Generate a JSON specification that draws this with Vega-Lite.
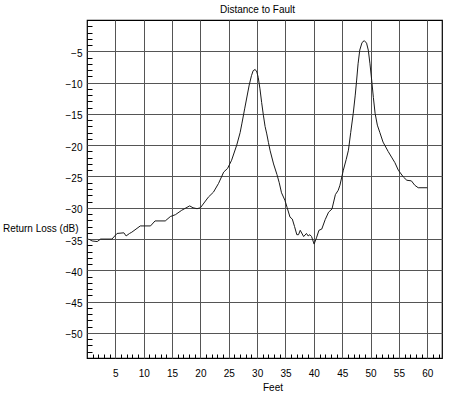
{
  "$schema": "https://vega.github.io/schema/vega-lite/v6.json",
  "width": 355,
  "height": 338,
  "autosize": "none",
  "padding": {"left": 87, "top": 20, "right": 8, "bottom": 37},
  "background": "white",
  "config": {"font": "Liberation Sans", "view": {"stroke": "black", "strokeWidth": 1.2}},
  "title": {"text": "Distance to Fault", "fontSize": 10, "fontWeight": "normal", "color": "black", "dx": -7, "dy": 10, "offset": 7, "baseline": "alphabetic"},
  "data": {"values": [
    {"feet": 0.3, "dB": -35.0}, {"feet": 0.9, "dB": -35.3}, {"feet": 1.8, "dB": -35.4}, {"feet": 2.4, "dB": -35.0},
    {"feet": 4.4, "dB": -35.0}, {"feet": 5.3, "dB": -34.1}, {"feet": 6.5, "dB": -34.0}, {"feet": 6.9, "dB": -34.5},
    {"feet": 7.5, "dB": -34.1}, {"feet": 7.9, "dB": -33.9}, {"feet": 9.4, "dB": -32.9}, {"feet": 11.2, "dB": -32.9},
    {"feet": 12.0, "dB": -32.1}, {"feet": 13.8, "dB": -32.1}, {"feet": 14.7, "dB": -31.4}, {"feet": 15.6, "dB": -31.1},
    {"feet": 16.7, "dB": -30.4}, {"feet": 18.1, "dB": -29.7}, {"feet": 18.7, "dB": -30.0}, {"feet": 19.4, "dB": -30.15},
    {"feet": 20.0, "dB": -30.0}, {"feet": 21.4, "dB": -28.3}, {"feet": 22.3, "dB": -27.5}, {"feet": 23.2, "dB": -26.1},
    {"feet": 24.1, "dB": -24.3}, {"feet": 24.8, "dB": -23.7}, {"feet": 25.5, "dB": -22.4}, {"feet": 26.4, "dB": -20.0},
    {"feet": 27.0, "dB": -18.0}, {"feet": 27.3, "dB": -16.6}, {"feet": 27.8, "dB": -14.2}, {"feet": 28.2, "dB": -12.3},
    {"feet": 28.6, "dB": -10.4}, {"feet": 29.0, "dB": -8.9}, {"feet": 29.3, "dB": -8.1}, {"feet": 29.65, "dB": -7.9},
    {"feet": 29.95, "dB": -8.3}, {"feet": 30.2, "dB": -9.2}, {"feet": 30.5, "dB": -11.0}, {"feet": 30.8, "dB": -13.2},
    {"feet": 31.1, "dB": -15.2}, {"feet": 31.4, "dB": -17.0}, {"feet": 31.7, "dB": -18.2}, {"feet": 32.0, "dB": -19.6},
    {"feet": 32.3, "dB": -20.9}, {"feet": 32.9, "dB": -23.0}, {"feet": 33.5, "dB": -24.7}, {"feet": 33.9, "dB": -26.0},
    {"feet": 34.3, "dB": -27.6}, {"feet": 34.9, "dB": -28.8}, {"feet": 35.3, "dB": -30.0}, {"feet": 35.8, "dB": -31.5},
    {"feet": 36.2, "dB": -31.8}, {"feet": 36.6, "dB": -33.0}, {"feet": 37.0, "dB": -34.3}, {"feet": 37.3, "dB": -34.3},
    {"feet": 37.6, "dB": -33.6}, {"feet": 38.2, "dB": -34.6}, {"feet": 38.7, "dB": -34.1}, {"feet": 39.0, "dB": -34.5},
    {"feet": 39.3, "dB": -34.3}, {"feet": 39.6, "dB": -34.6}, {"feet": 40.05, "dB": -35.8}, {"feet": 40.5, "dB": -34.7},
    {"feet": 40.9, "dB": -33.6}, {"feet": 41.4, "dB": -33.4}, {"feet": 42.0, "dB": -31.9}, {"feet": 42.6, "dB": -30.7},
    {"feet": 43.2, "dB": -30.2}, {"feet": 43.8, "dB": -27.9}, {"feet": 44.3, "dB": -27.2}, {"feet": 44.6, "dB": -26.4},
    {"feet": 45.2, "dB": -24.0}, {"feet": 45.7, "dB": -22.3}, {"feet": 46.1, "dB": -20.8}, {"feet": 46.5, "dB": -18.0},
    {"feet": 46.95, "dB": -14.9}, {"feet": 47.3, "dB": -12.0}, {"feet": 47.55, "dB": -9.6}, {"feet": 47.8, "dB": -7.0},
    {"feet": 48.1, "dB": -4.8}, {"feet": 48.5, "dB": -3.6}, {"feet": 48.9, "dB": -3.3}, {"feet": 49.3, "dB": -3.7},
    {"feet": 49.6, "dB": -4.8}, {"feet": 49.9, "dB": -7.0}, {"feet": 50.2, "dB": -9.6}, {"feet": 50.5, "dB": -12.4},
    {"feet": 50.8, "dB": -14.9}, {"feet": 51.2, "dB": -16.8}, {"feet": 51.65, "dB": -18.0}, {"feet": 52.2, "dB": -19.5},
    {"feet": 53.1, "dB": -21.0}, {"feet": 53.7, "dB": -21.9}, {"feet": 54.3, "dB": -22.8}, {"feet": 54.9, "dB": -24.0},
    {"feet": 55.8, "dB": -25.1}, {"feet": 56.4, "dB": -25.6}, {"feet": 57.2, "dB": -25.7}, {"feet": 57.8, "dB": -26.4},
    {"feet": 58.4, "dB": -26.8}, {"feet": 60.0, "dB": -26.8}
  ]},
  "layer": [
    {
      "mark": {"type": "line", "color": "#1a1a1a", "strokeWidth": 1, "clip": true},
      "encoding": {
        "x": {"field": "feet", "type": "quantitative",
          "scale": {"domain": [0, 62.6], "nice": false, "zero": false},
          "axis": {"values": [5, 10, 15, 20, 25, 30, 35, 40, 45, 50, 55, 60], "title": "Feet",
            "grid": true, "gridColor": "#555", "gridOpacity": 1, "gridWidth": 1, "ticks": false, "domain": false,
            "labelPadding": 10, "labelFontSize": 10, "labelColor": "black", "labelFont": "Liberation Sans",
            "titleFontSize": 10, "titleFontWeight": "normal", "titleColor": "black", "titleFont": "Liberation Sans",
            "titleX": 185.5, "titleY": 32, "titleBaseline": "alphabetic"}},
        "y": {"field": "dB", "type": "quantitative",
          "scale": {"domain": [-54, 0], "nice": false, "zero": false},
          "axis": {"values": [-5, -10, -15, -20, -25, -30, -35, -40, -45, -50], "title": "Return Loss (dB)",
            "grid": true, "gridColor": "#555", "gridOpacity": 1, "gridWidth": 1, "ticks": false, "domain": false,
            "labelPadding": 5, "labelOffset": 2, "labelFontSize": 10, "labelColor": "black", "labelFont": "Liberation Sans",
            "titleFontSize": 10, "titleFontWeight": "normal", "titleColor": "black", "titleFont": "Liberation Sans",
            "titleAngle": 0, "titleAlign": "right", "titleX": -9, "titleY": 211, "titleBaseline": "alphabetic"}}
      }
    },
    {
      "mark": {"type": "line", "opacity": 0},
      "encoding": {
        "x": {"field": "feet", "type": "quantitative",
          "scale": {"domain": [0, 62.6], "nice": false, "zero": false},
          "axis": {"orient": "bottom", "values": [1,2,3,4,6,7,8,9,11,12,13,14,16,17,18,19,21,22,23,24,26,27,28,29,31,32,33,34,36,37,38,39,41,42,43,44,46,47,48,49,51,52,53,54,56,57,58,59,61,62],
            "labels": false, "grid": false, "domain": false, "ticks": true, "tickSize": -4, "tickColor": "black", "tickWidth": 1, "title": null}},
        "y": {"field": "dB", "type": "quantitative",
          "scale": {"domain": [-54, 0], "nice": false, "zero": false},
          "axis": {"orient": "left", "values": [-1,-2,-3,-4,-6,-7,-8,-9,-11,-12,-13,-14,-16,-17,-18,-19,-21,-22,-23,-24,-26,-27,-28,-29,-31,-32,-33,-34,-36,-37,-38,-39,-41,-42,-43,-44,-46,-47,-48,-49,-51,-52,-53],
            "labels": false, "grid": false, "domain": false, "ticks": true, "tickSize": -5, "tickColor": "black", "tickWidth": 1, "title": null}}
      }
    }
  ],
  "resolve": {"axis": {"x": "independent", "y": "independent"}}
}
